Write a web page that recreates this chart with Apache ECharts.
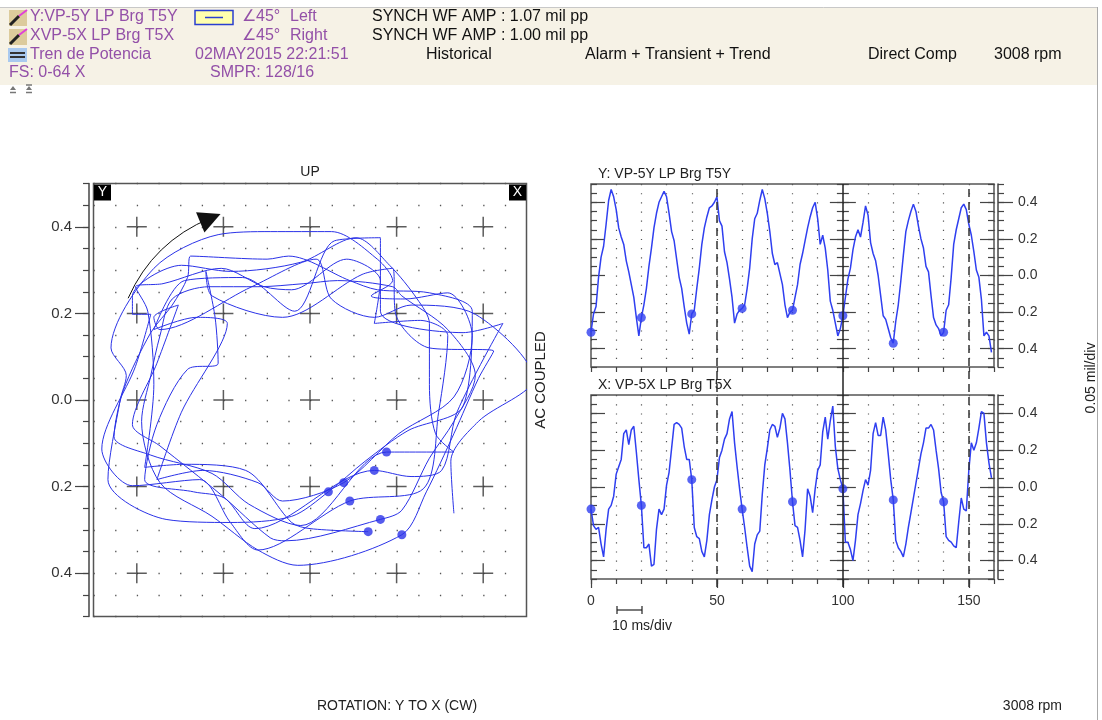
<!DOCTYPE html>
<html><head><meta charset="utf-8">
<script src="https://cdn.jsdelivr.net/npm/echarts@6/dist/echarts.min.js"></script>
<style>html,body{margin:0;padding:0;background:#fff}#c{width:1102px;height:720px}</style>
</head><body><div id="c"></div>
<script>
// ---- DATA ----
// Y probe waveform (VP-5Y), one sample per ms, 0..159 ms
const waveY = [-0.31,-0.21,-0.17,-0.01,0.10,0.16,0.28,0.41,0.47,0.43,
0.36,0.26,0.21,0.17,0.08,0.02,-0.05,-0.12,-0.23,-0.33,
-0.23,-0.16,-0.07,0.05,0.15,0.26,0.34,0.40,0.43,0.46,
0.43,0.34,0.24,0.19,0.09,-0.01,-0.07,-0.17,-0.26,-0.32,
-0.21,-0.19,-0.07,0.04,0.17,0.26,0.32,0.37,0.38,0.40,
0.43,0.30,0.27,0.13,0.07,-0.02,-0.12,-0.26,-0.21,-0.19,
-0.18,-0.16,-0.07,0.04,0.20,0.31,0.34,0.41,0.47,0.42,
0.34,0.24,0.12,0.06,0.07,0.01,-0.05,-0.16,-0.23,-0.20,
-0.19,-0.12,-0.05,0.06,0.12,0.19,0.26,0.32,0.37,0.40,
0.31,0.17,0.22,0.15,0.03,-0.14,-0.19,-0.26,-0.33,-0.29,
-0.22,-0.12,-0.02,0.04,0.14,0.21,0.25,0.21,0.29,0.38,
0.33,0.18,0.12,0.08,0.00,-0.11,-0.22,-0.24,-0.29,-0.34,
-0.37,-0.25,-0.16,-0.03,0.11,0.24,0.30,0.35,0.39,0.35,
0.27,0.20,0.15,0.05,0.02,-0.11,-0.23,-0.27,-0.29,-0.33,
-0.31,-0.19,-0.16,-0.01,0.17,0.25,0.31,0.37,0.39,0.36,
0.28,0.22,0.13,0.03,-0.01,-0.13,-0.33,-0.31,-0.33,-0.42];
// X probe waveform (VP-5X), one sample per ms, 0..159 ms
const waveX = [-0.12,-0.21,-0.23,-0.22,-0.31,-0.38,-0.23,-0.12,-0.10,-0.05,
0.07,0.11,0.15,0.29,0.31,0.23,0.31,0.33,0.19,0.04,
-0.10,-0.33,-0.33,-0.31,-0.43,-0.42,-0.23,-0.12,-0.15,-0.12,
0.01,0.08,0.21,0.34,0.35,0.34,0.32,0.22,0.15,0.15,
0.04,-0.22,-0.27,-0.28,-0.35,-0.38,-0.29,-0.15,-0.07,0.00,
0.04,0.16,0.20,0.26,0.29,0.37,0.41,0.24,0.11,-0.01,
-0.12,-0.22,-0.33,-0.43,-0.46,-0.31,-0.26,-0.24,-0.04,0.12,
0.21,0.31,0.34,0.33,0.27,0.32,0.40,0.37,0.24,0.09,
-0.08,-0.21,-0.22,-0.29,-0.38,-0.23,-0.01,-0.05,-0.14,-0.01,
0.09,0.12,0.30,0.38,0.26,0.36,0.44,0.22,0.10,0.04,
-0.01,-0.30,-0.30,-0.34,-0.40,-0.29,-0.15,-0.09,-0.02,0.04,
0.01,0.09,0.29,0.35,0.28,0.28,0.38,0.31,0.18,0.04,
-0.07,-0.29,-0.33,-0.35,-0.38,-0.31,-0.22,-0.14,-0.06,0.02,
0.10,0.18,0.24,0.32,0.32,0.34,0.31,0.20,0.10,-0.03,
-0.08,-0.27,-0.29,-0.30,-0.32,-0.33,-0.19,-0.06,-0.12,-0.13,
0.09,0.24,0.20,0.24,0.32,0.41,0.40,0.24,0.13,0.05];
const sampleMs = 1;
const keyphasorMs = [0, 20, 40, 60, 80, 100, 120, 140];
const timeTicksMajor = [0, 50, 100, 150];
const timeMarkDashed = [50, 150];
const timeMarkSolid = [100];
const ampTicksMajor = [-0.4, -0.2, 0, 0.2, 0.4];
const orbitCrossPos = [-0.4, -0.2, 0, 0.2, 0.4];
const probeYAngleDeg = 45; // Left
const probeXAngleDeg = 45; // Right
const rotationArrow = [[-0.42, 0.235], [-0.23, 0.42]];

// ---- derived ----
const deg = Math.PI / 180;
const yDir = [-Math.sin(probeYAngleDeg * deg), Math.cos(probeYAngleDeg * deg)];
const xDir = [Math.sin(probeXAngleDeg * deg), Math.cos(probeXAngleDeg * deg)];
const orbitData = waveX.map((xv, i) => [xv * xDir[0] + waveY[i] * yDir[0], xv * xDir[1] + waveY[i] * yDir[1]]);
const kpIdx = keyphasorMs.map(t => t / sampleMs);
const crossData = [];
orbitCrossPos.forEach(a => orbitCrossPos.forEach(b => crossData.push([a, b])));

const FONT = '"Liberation Sans", Arial, sans-serif';
const BLUE = '#2f3ff0';
const OBLUE = '#2a32e8';
const TL = { color: '#444', width: 1.2 };
const fmtAbs = v => Math.abs(v).toFixed(1);

const xAxes = [], yAxes = [];
function addX(o) { xAxes.push(Object.assign({ type: 'value', position: 'bottom', axisLine: { show: false, onZero: false } }, o)); return xAxes.length - 1; }
function addY(o) { yAxes.push(Object.assign({ type: 'value', axisLine: { show: false, onZero: false } }, o)); return yAxes.length - 1; }

function ampPair(g, position, offset, inside, labels, line, shortLen, longLen) {
  const a = addY({ gridIndex: g, min: -0.5, max: 0.5, interval: 0.05, position, offset,
    axisLine: { show: line, onZero: false, lineStyle: { color: '#444', width: 1.5 } },
    axisTick: { show: true, inside, length: shortLen, lineStyle: TL },
    axisLabel: { show: false }, splitLine: { show: false } });
  addY({ gridIndex: g, min: -0.5, max: 0.5, interval: 0.05, position, offset,
    axisLine: { show: false, onZero: false },
    axisTick: { show: true, inside, length: longLen, customValues: ampTicksMajor, lineStyle: TL },
    axisLabel: labels ? { show: true, customValues: ampTicksMajor, formatter: fmtAbs, margin: 20,
      color: '#333', fontSize: 14, fontFamily: FONT } : { show: false },
    splitLine: { show: false } });
  return a;
}

// grids
const grids = [
  { left: 93.5, top: 183.5, width: 433, height: 433, show: true, borderColor: '#555', borderWidth: 1.5 },
  { left: 591, top: 184, width: 403, height: 183, show: true, borderColor: '#555', borderWidth: 1.5 },
  { left: 591, top: 395, width: 403, height: 184, show: true, borderColor: '#555', borderWidth: 1.5 },
  { left: 591, top: 184, width: 403, height: 403, show: false }
];

// orbit axes
const oX = addX({ gridIndex: 0, min: -0.5, max: 0.5, show: false });
const oY = addY({ gridIndex: 0, min: -0.5, max: 0.5, interval: 0.05, position: 'left', offset: 4.5,
  axisLine: { show: true, onZero: false, lineStyle: { color: '#444', width: 1.5 } },
  axisTick: { show: true, inside: false, length: 6, lineStyle: TL },
  axisLabel: { show: false },
  splitLine: { show: true, lineStyle: { type: [1.3, 20.35], color: '#555', width: 1.3 } } });
addY({ gridIndex: 0, min: -0.5, max: 0.5, interval: 0.05, position: 'left', offset: 4.5,
  axisLine: { show: false, onZero: false },
  axisTick: { show: true, inside: false, length: 14, customValues: ampTicksMajor, lineStyle: TL },
  axisLabel: { show: true, customValues: ampTicksMajor, formatter: fmtAbs, margin: 17, color: '#333', fontSize: 15, fontFamily: FONT },
  splitLine: { show: false } });

const midOffset = -(100 / 160) * 403;
function waveAxes(g, h, labels) {
  const xi = addX({ gridIndex: g, min: 0, max: 160, interval: 10, position: 'bottom',
    axisLine: { show: false, onZero: false },
    axisTick: { show: true, length: 5, lineStyle: TL }, axisLabel: { show: false },
    splitLine: { show: true, lineStyle: { type: [1.2, h * 0.05 - 1.2], color: '#555', width: 1.2 } } });
  if (labels) addX({ gridIndex: g, min: 0, max: 160, interval: 10, position: 'bottom',
    axisLine: { show: false, onZero: false },
    axisTick: { show: true, length: 9, customValues: timeTicksMajor, lineStyle: TL },
    axisLabel: { show: true, customValues: timeTicksMajor, margin: 15, color: '#333', fontSize: 14, fontFamily: FONT },
    splitLine: { show: false } });
  const yi = ampPair(g, 'left', 0, true, false, false, 6, 14);
  ampPair(g, 'right', 0, true, false, false, 6, 14);
  ampPair(g, 'left', midOffset, false, false, false, 6, 13);
  ampPair(g, 'left', midOffset, true, false, false, 6, 13);
  ampPair(g, 'right', 4, false, true, true, 6, 15);
  return { xi, yi };
}
const topAx = waveAxes(1, 183, false);
const botAx = waveAxes(2, 184, true);
const ovX = addX({ gridIndex: 3, min: 0, max: 160, show: false });
const ovY = addY({ gridIndex: 3, min: 0, max: 1, show: false });

const series = [
  { type: 'scatter', xAxisIndex: oX, yAxisIndex: oY, data: crossData, z: 1, silent: true,
    symbol: 'path://M18.5,0H21.5V18.5H40V21.5H21.5V40H18.5V21.5H0V18.5H18.5Z', symbolSize: 20,
    itemStyle: { color: '#333' } },
  { type: 'line', xAxisIndex: oX, yAxisIndex: oY, data: orbitData, showSymbol: false, z: 3, smooth: 0.3,
    lineStyle: { color: OBLUE, width: 1 }, clip: true },
  { type: 'scatter', xAxisIndex: oX, yAxisIndex: oY, data: kpIdx.map(i => orbitData[i]), z: 4,
    symbolSize: 9, itemStyle: { color: OBLUE } },
  { type: 'lines', coordinateSystem: 'cartesian2d', xAxisIndex: oX, yAxisIndex: oY, z: 5,
    data: [{ coords: rotationArrow }], symbol: ['none', 'path://M6,0L12,26L0,26Z'], symbolSize: 22, symbolKeepAspect: true,
    lineStyle: { color: '#111', width: 1, curveness: 0.2, opacity: 1 } },
  { type: 'line', xAxisIndex: topAx.xi, yAxisIndex: topAx.yi, data: waveY.map((v, i) => [i * sampleMs, v]),
    showSymbol: false, z: 3, lineStyle: { color: BLUE, width: 1.5 } },
  { type: 'scatter', xAxisIndex: topAx.xi, yAxisIndex: topAx.yi, z: 4,
    data: keyphasorMs.map(t => [t, waveY[t / sampleMs]]), symbolSize: 9, itemStyle: { color: BLUE } },
  { type: 'line', xAxisIndex: botAx.xi, yAxisIndex: botAx.yi, data: waveX.map((v, i) => [i * sampleMs, v]),
    showSymbol: false, z: 3, lineStyle: { color: BLUE, width: 1.5 } },
  { type: 'scatter', xAxisIndex: botAx.xi, yAxisIndex: botAx.yi, z: 4,
    data: keyphasorMs.map(t => [t, waveX[t / sampleMs]]), symbolSize: 9, itemStyle: { color: BLUE } },
  { type: 'line', xAxisIndex: ovX, yAxisIndex: ovY, data: [], z: 2,
    markLine: { symbol: 'none', silent: true, animation: false, label: { show: false },
      data: timeMarkSolid.map(t => ({ xAxis: t, lineStyle: { type: 'solid', color: '#222', width: 1.5 } }))
        .concat(timeMarkDashed.map(t => ({ xAxis: t, lineStyle: { type: [8, 5], color: '#333', width: 1.5 } }))) } }
];

const P = '#9350a8';
const hdr = (text, x, y, fill, size) => ({ type: 'text', x, y, silent: true,
  style: { text, fill: fill || '#111', font: (size || 16) + 'px ' + FONT, textAlign: 'left', textVerticalAlign: 'middle', verticalAlign: 'middle' } });
const txt = (text, x, y, align, size, rot) => ({ type: 'text', x, y, rotation: rot || 0, silent: true,
  style: { text, fill: '#222', font: (size || 14) + 'px ' + FONT, textAlign: align || 'left', textVerticalAlign: 'middle', verticalAlign: 'middle' } });
const ln = (x1, y1, x2, y2, stroke, w) => ({ type: 'line', silent: true, shape: { x1, y1, x2, y2 }, style: { stroke, lineWidth: w || 1 } });

const graphic = [
  { type: 'rect', silent: true, shape: { x: 0, y: 7, width: 1098, height: 78 }, style: { fill: '#f6f2e6' }, z: -10 },
  ln(0, 7.5, 1098, 7.5, '#c8c8c8', 1),
  ln(1097.5, 7, 1097.5, 720, '#aaaaaa', 1),
  // icons
  { type: 'rect', silent: true, shape: { x: 9, y: 10, width: 18, height: 16 }, style: { fill: '#dccb9c' } },
  ln(10, 25, 19, 16, '#222', 3), ln(19, 16, 27, 10, '#e040d8', 2),
  { type: 'rect', silent: true, shape: { x: 9, y: 29, width: 18, height: 16 }, style: { fill: '#dccb9c' } },
  ln(10, 44, 19, 35, '#222', 3), ln(19, 35, 27, 29, '#e040d8', 2),
  { type: 'rect', silent: true, shape: { x: 8, y: 48, width: 19, height: 14 }, style: { fill: '#a9c9ef' } },
  ln(10, 53, 25, 53, '#333', 2), ln(10, 57, 25, 57, '#333', 2),
  { type: 'polygon', silent: true, shape: { points: [[10, 90], [13, 86], [16, 90]] }, style: { fill: '#777' } },
  ln(10, 92.5, 16, 92.5, '#777', 1.5),
  { type: 'polygon', silent: true, shape: { points: [[26, 90], [29, 86], [32, 90]] }, style: { fill: '#777' } },
  ln(26, 85, 32, 85, '#777', 1.5), ln(26, 92.5, 32, 92.5, '#777', 1.5),
  { type: 'rect', silent: true, shape: { x: 195, y: 10.5, width: 38, height: 14 }, style: { fill: '#ffffae', stroke: '#2a3fd0', lineWidth: 1.5 } },
  ln(205, 17.5, 223, 17.5, '#2a3fd0', 1.5),
  hdr('Y:VP-5Y LP Brg T5Y', 30, 17, P), hdr('XVP-5X LP Brg T5X', 30, 36, P),
  hdr('Tren de Potencia', 30, 55, P), hdr('FS: 0-64 X', 9, 73, P),
  hdr('∠45°', 242, 17, P), hdr('Left', 290, 17, P),
  hdr('∠45°', 242, 36, P), hdr('Right', 290, 36, P),
  hdr('02MAY2015 22:21:51', 195, 55, P), hdr('SMPR: 128/16', 210, 73, P),
  hdr('SYNCH WF AMP : 1.07 mil pp', 372, 17), hdr('SYNCH WF AMP : 1.00 mil pp', 372, 36),
  hdr('Historical', 426, 55), hdr('Alarm + Transient + Trend', 585, 55),
  hdr('Direct Comp', 868, 55), hdr('3008 rpm', 994, 55),
  // orbit labels
  txt('UP', 310, 172, 'center', 14),
  { type: 'rect', silent: true, shape: { x: 94, y: 184.5, width: 17, height: 16 }, style: { fill: '#000' }, z: 10 },
  { type: 'text', x: 102.5, y: 192.5, silent: true, z: 11, style: { text: 'Y', fill: '#fff', font: '14px ' + FONT, textAlign: 'center', textVerticalAlign: 'middle', verticalAlign: 'middle' } },
  { type: 'rect', silent: true, shape: { x: 509, y: 184.5, width: 17, height: 16 }, style: { fill: '#000' }, z: 10 },
  { type: 'text', x: 517.5, y: 192.5, silent: true, z: 11, style: { text: 'X', fill: '#fff', font: '14px ' + FONT, textAlign: 'center', textVerticalAlign: 'middle', verticalAlign: 'middle' } },
  txt('AC COUPLED', 541, 380, 'center', 15, Math.PI / 2),
  // waveform labels
  txt('Y: VP-5Y LP Brg T5Y', 598, 174, 'left', 14),
  txt('X: VP-5X LP Brg T5X', 598, 385, 'left', 14),
  txt('0.05 mil/div', 1091, 378, 'center', 14, Math.PI / 2),
  ln(617, 610, 642, 610, '#222', 1.2), ln(617, 606, 617, 614, '#222', 1.2), ln(642, 606, 642, 614, '#222', 1.2),
  txt('10 ms/div', 612, 626, 'left', 14),
  // footer
  txt('ROTATION: Y TO X (CW)', 397, 706, 'center', 14),
  txt('3008 rpm', 1062, 706, 'right', 14)
];

const chart = echarts.init(document.getElementById('c'), null, { renderer: 'canvas' });
chart.setOption({
  animation: false,
  backgroundColor: '#ffffff',
  grid: grids, xAxis: xAxes, yAxis: yAxes, series, graphic
});
</script></body></html>
